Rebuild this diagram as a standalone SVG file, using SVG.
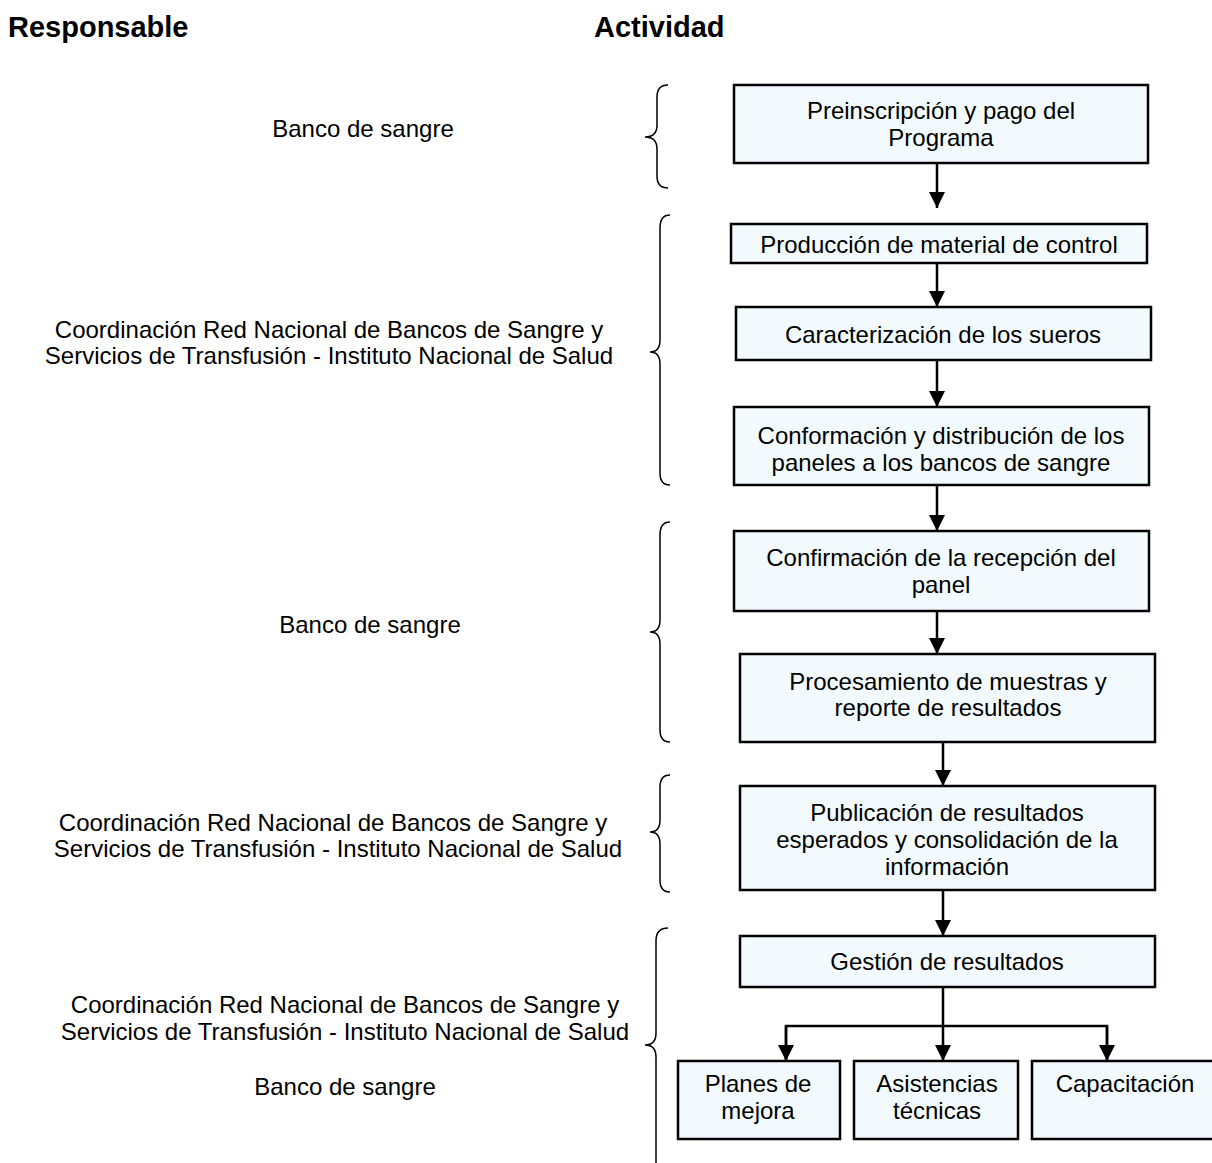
<svg xmlns="http://www.w3.org/2000/svg" width="1212" height="1163" viewBox="0 0 1212 1163">
<defs>
<marker id="ah" markerUnits="userSpaceOnUse" markerWidth="16" markerHeight="18" refX="16" refY="8" orient="auto">
<path d="M0,0 L16,8 L0,16 Z" fill="#000"/>
</marker>
<style>
text{font-family:"Liberation Sans",Arial,sans-serif;font-size:24px;fill:#000;text-anchor:middle;dominant-baseline:central}
.h{font-weight:bold;text-anchor:start;font-size:29px}
.box{fill:#F2FAFD;stroke:#000;stroke-width:2.5}
.br{fill:none;stroke:#000;stroke-width:1.5}
.c{fill:none;stroke:#000;stroke-width:2.5}
</style>
</defs>
<rect width="1212" height="1163" fill="#fff"/>
<text class="h" x="8" y="27">Responsable</text>
<text class="h" x="594" y="27">Actividad</text>

<g id="responsables">
<text x="363" y="128">Banco de sangre</text>
<text x="329" y="329">Coordinación Red Nacional de Bancos de Sangre y</text>
<text x="329" y="355">Servicios de Transfusión - Instituto Nacional de Salud</text>
<text x="370" y="624">Banco de sangre</text>
<text x="333" y="822">Coordinación Red Nacional de Bancos de Sangre y</text>
<text x="338" y="848">Servicios de Transfusión - Instituto Nacional de Salud</text>
<text x="345" y="1004">Coordinación Red Nacional de Bancos de Sangre y</text>
<text x="345" y="1031">Servicios de Transfusión - Instituto Nacional de Salud</text>
<text x="345" y="1086">Banco de sangre</text>
</g>

<g id="braces">
<path class="br" d="M668,85 Q657,85 657,97 L657,125 Q657,137 645,137 Q657,137 657,149 L657,176 Q657,188 668,188"/>
<path class="br" d="M670,215 Q660,215 660,228 L660,340 Q660,352 650,352 Q660,352 660,364 L660,473 Q660,485 670,485"/>
<path class="br" d="M670,522 Q660,522 660,535 L660,620 Q660,632 650,632 Q660,632 660,644 L660,730 Q660,742 670,742"/>
<path class="br" d="M670,775 Q660,775 660,787 L660,820 Q660,832 650,832 Q660,832 660,844 L660,880 Q660,892 670,892"/>
<path class="br" d="M668,928 Q656,928 656,941 L656,1033 Q656,1045 645,1045 Q656,1045 656,1057 L656,1170"/>
</g>

<g id="n1"><rect class="box" x="734" y="85" width="414" height="78"/>
<text x="941" y="110">Preinscripción y pago del</text><text x="941" y="137">Programa</text></g>
<g id="n2"><rect class="box" x="731" y="224" width="416" height="39"/>
<text x="939" y="244">Producción de material de control</text></g>
<g id="n3"><rect class="box" x="736" y="307" width="415" height="53"/>
<text x="943" y="334">Caracterización de los sueros</text></g>
<g id="n4"><rect class="box" x="734" y="407" width="415" height="78"/>
<text x="941" y="435">Conformación y distribución de los</text><text x="941" y="462">paneles a los bancos de sangre</text></g>
<g id="n5"><rect class="box" x="734" y="531" width="415" height="80"/>
<text x="941" y="557">Confirmación de la recepción del</text><text x="941" y="584">panel</text></g>
<g id="n6"><rect class="box" x="740" y="654" width="415" height="88"/>
<text x="948" y="681">Procesamiento de muestras y</text><text x="948" y="707">reporte de resultados</text></g>
<g id="n7"><rect class="box" x="740" y="786" width="415" height="104"/>
<text x="947" y="812">Publicación de resultados</text><text x="947" y="839">esperados y consolidación de la</text><text x="947" y="866">información</text></g>
<g id="n8"><rect class="box" x="740" y="936" width="415" height="51"/>
<text x="947" y="961">Gestión de resultados</text></g>
<g id="n9"><rect class="box" x="678" y="1061" width="162" height="78"/>
<text x="758" y="1083">Planes de</text><text x="758" y="1110">mejora</text></g>
<g id="n10"><rect class="box" x="854" y="1061" width="164" height="78"/>
<text x="937" y="1083">Asistencias</text><text x="937" y="1110">técnicas</text></g>
<g id="n11"><rect class="box" x="1032" y="1061" width="186" height="78"/>
<text x="1125" y="1083">Capacitación</text></g>

<g id="connectors">
<line class="c" x1="937" y1="163" x2="937" y2="208" marker-end="url(#ah)"/>
<line class="c" x1="937" y1="263" x2="937" y2="307" marker-end="url(#ah)"/>
<line class="c" x1="937" y1="360" x2="937" y2="407" marker-end="url(#ah)"/>
<line class="c" x1="937" y1="485" x2="937" y2="531" marker-end="url(#ah)"/>
<line class="c" x1="937" y1="611" x2="937" y2="654" marker-end="url(#ah)"/>
<line class="c" x1="943" y1="742" x2="943" y2="786" marker-end="url(#ah)"/>
<line class="c" x1="943" y1="890" x2="943" y2="936" marker-end="url(#ah)"/>
<line class="c" x1="943" y1="987" x2="943" y2="1061" marker-end="url(#ah)"/>
<polyline class="c" points="786,1061 786,1026 1107,1026 1107,1061"/>
<line class="c" x1="786" y1="1026" x2="786" y2="1061" marker-end="url(#ah)"/>
<line class="c" x1="1107" y1="1026" x2="1107" y2="1061" marker-end="url(#ah)"/>
</g>
</svg>
